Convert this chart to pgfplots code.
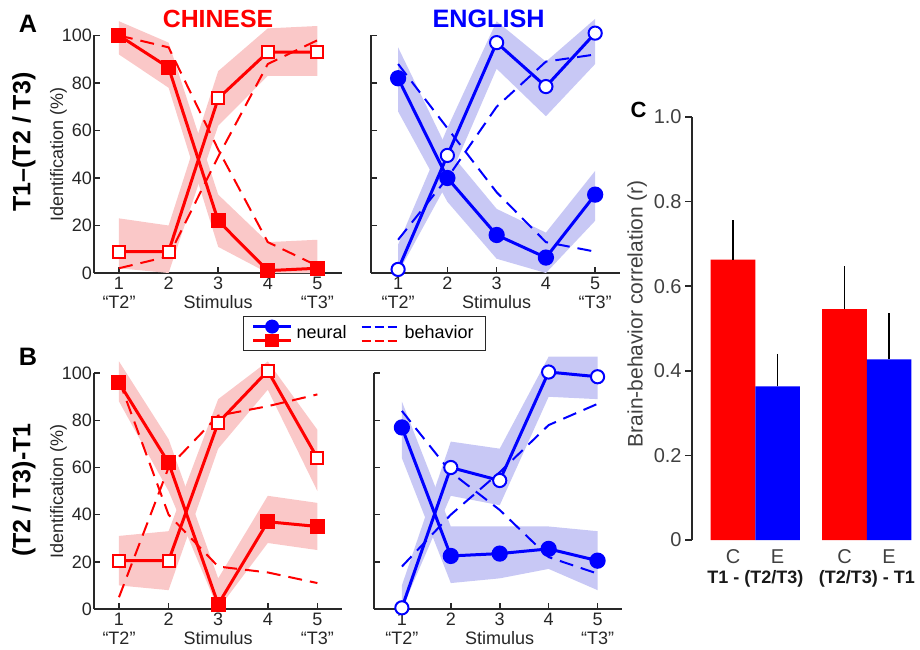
\documentclass[border=0pt]{standalone}
\usepackage{fontspec}
\setmainfont{Liberation Sans}
\usepackage{pgfplots}
\pgfplotsset{compat=1.18}
\definecolor{bandred}{RGB}{250,200,200}
\definecolor{bandblue}{RGB}{200,200,245}
\definecolor{axgray}{RGB}{40,40,40}
\pgfplotsset{
  lineax/.style={
    scale only axis, clip=false,
    xmin=0.5, xmax=5.5, ymin=0, ymax=100,
    axis x line*=bottom, axis y line*=left,
    axis line style={line width=0.9pt, axgray, -},
    tick align=inside, major tick length=3pt,
    major tick style={line width=0.8pt, axgray},
    xtick={1,2,3,4,5}, ytick={0,20,40,60,80,100},
    xticklabels={{1\\“T2”},{2},{3\\Stimulus},{4},{5\\“T3”}},
    xticklabel style={align=center, font=\fontsize{9}{9.5}\selectfont, inner sep=1pt, yshift=-1pt, text=black!85},
    yticklabel style={font=\fontsize{9}{10}\selectfont, inner sep=1pt, text=black!85},
    /pgf/number format/assume math mode=true,
    ylabel style={font=\fontsize{9}{10}\selectfont, text=black!85, at={(axis description cs:-0.144,0.5)}, anchor=center},
  },
  rband/.style={fill=bandred, draw=none, forget plot},
  bband/.style={fill=bandblue, draw=none, forget plot},
  rdash/.style={red, line width=1pt, dash pattern=on 7pt off 4pt, forget plot},
  bdash/.style={blue, line width=1pt, dash pattern=on 7pt off 4pt, forget plot},
  rfill/.style={red, line width=1.5pt, mark=square*, mark size=3pt, mark options={solid, fill=red}, forget plot},
  ropen/.style={red, line width=1.5pt, mark=square*, mark size=3pt, mark options={solid, fill=white, line width=1pt}, forget plot},
  bfill/.style={blue, line width=1.5pt, mark=*, mark size=3.3pt, mark options={solid, fill=blue}, forget plot},
  bopen/.style={blue, line width=1.5pt, mark=*, mark size=3.3pt, mark options={solid, fill=white, line width=1pt}, forget plot},
}
\begin{document}
\begin{tikzpicture}
\useasboundingbox (0,0) rectangle (460pt,324.5pt);

% ---------------- A Chinese ----------------
\begin{axis}[lineax, at={(47.1pt,188pt)}, anchor=south west, width=124pt, height=118.75pt,
  ylabel={Identification (\%)},
  legend style={at={(0.6,-0.181)}, anchor=north west, legend columns=2, draw=axgray, line width=0.6pt,
    font=\fontsize{9}{10}\selectfont, inner xsep=4pt, inner ysep=1.5pt,
    /tikz/every even column/.append style={column sep=5pt}},
  legend cell align=left]
\addplot[rband] coordinates {(1,106) (2,97) (3,33) (4,13) (5,14) (5,0) (4,0) (3,11) (2,78) (1,92)};
\addplot[rband] coordinates {(1,23) (2,20) (3,85) (4,103) (5,104) (5,83) (4,83) (3,62) (2,0) (1,2)};
\addplot[rdash] coordinates {(1,100) (2,95) (3,52) (4,13) (5,3)};
\addplot[rdash] coordinates {(1,2) (2,7) (3,49) (4,88) (5,98)};
\addplot[rfill] coordinates {(1,100) (2,86.5) (3,22) (4,1) (5,2)};
\addplot[ropen] coordinates {(1,9) (2,9) (3,73.5) (4,93) (5,93)};
\addlegendimage{legend image code/.code={
  \draw[blue, line width=1.5pt] (0pt,3.5pt) -- (19pt,3.5pt);
  \fill[blue] (9.5pt,3.5pt) circle (3.2pt);
  \draw[red, line width=1.5pt] (0pt,-3.5pt) -- (19pt,-3.5pt);
  \fill[red] (6.5pt,-6.5pt) rectangle (12.5pt,-0.5pt);
}}
\addlegendentry{neural}
\addlegendimage{legend image code/.code={
  \draw[blue, line width=1pt, dash pattern=on 4.5pt off 2pt] (0pt,3.5pt) -- (19pt,3.5pt);
  \draw[red, line width=1pt, dash pattern=on 4.5pt off 2pt] (0pt,-3.5pt) -- (19pt,-3.5pt);
}}
\addlegendentry{behavior}
\end{axis}

% ---------------- A English ----------------
\begin{axis}[lineax, at={(185.5pt,188pt)}, anchor=south west, width=124.4pt, height=118.75pt,
  xmin=0.45, yticklabels={}]
\addplot[bband] coordinates {(1,95) (2,52) (3,27) (4,17) (5,43) (5,22) (4,0) (3,6) (2,30) (1,68)};
\addplot[bband] coordinates {(1,12) (2,61) (3,106) (4,89) (5,107) (5,88) (4,66) (3,86) (2,38) (1,0)};
\addplot[bdash] coordinates {(1,88) (2,61) (3,34) (4,13) (5,9)};
\addplot[bdash] coordinates {(1,14) (2,40) (3,70) (4,89) (5,92)};
\addplot[bfill] coordinates {(1,82) (2,40) (3,16) (4,6.5) (5,33)};
\addplot[bopen] coordinates {(1,1.5) (2,49.5) (3,97) (4,78.5) (5,101)};
\end{axis}

% ---------------- B Chinese ----------------
\begin{axis}[lineax, at={(47.1pt,20pt)}, anchor=south west, width=124pt, height=117.9pt,
  ylabel={Identification (\%)}]
\addplot[rband] coordinates {(1,105) (2,72) (3,13) (4,48) (5,45) (5,25) (4,28) (3,0) (2,50) (1,88)};
\addplot[rband] coordinates {(1,31) (2,33) (3,89) (4,105) (5,76) (5,50) (4,93) (3,68) (2,8) (1,10)};
\addplot[rdash] coordinates {(1,5) (2,60) (3,82) (4,86) (5,91)};
\addplot[rdash] coordinates {(1,97) (2,40) (3,18) (4,15.5) (5,11)};
\addplot[rfill] coordinates {(1,96) (2,62) (3,2) (4,37) (5,35)};
\addplot[ropen] coordinates {(1,20.5) (2,20.5) (3,79) (4,101) (5,64)};
\end{axis}

% ---------------- B English ----------------
\begin{axis}[lineax, at={(187pt,20pt)}, anchor=south west, width=124pt, height=117.9pt,
  xmin=0.43, yticklabels={}]
\addplot[bband] coordinates {(1,88) (2,35) (3,35) (4,35) (5,33) (5,8) (4,17) (3,13) (2,11) (1,64)};
\addplot[bband] coordinates {(1,10) (2,71) (3,68) (4,107) (5,107) (5,89) (4,90) (3,44) (2,48) (1,0)};
\addplot[bdash] coordinates {(1,84) (2,58) (3,42) (4,22) (5,15)};
\addplot[bdash] coordinates {(1,18) (2,40) (3,58) (4,78) (5,87)};
\addplot[bfill] coordinates {(1,77) (2,22.5) (3,23.5) (4,25.5) (5,20.5)};
\addplot[bopen] coordinates {(1,0.5) (2,60) (3,54.5) (4,100.5) (5,98.5)};
\end{axis}

% ---------------- C bars ----------------
\begin{axis}[at={(346pt,54.5pt)}, anchor=south west, scale only axis, width=109.7pt, height=211.5pt,
  xmin=0.08, xmax=5.0, ymin=0, ymax=1, clip=false,
  axis x line*=bottom, axis y line*=left,
  x axis line style={draw=none}, y axis line style={line width=0.9pt, axgray, -},
  xtick={1,2,3.5,4.5}, xticklabels={C,E,C,E},
  xtick style={draw=none},
  extra x ticks={1.5,4}, extra x tick labels={{\bfseries T1 - (T2/T3)},{\bfseries (T2/T3) - T1}},
  extra x tick style={xtick style={draw=none}, xticklabel style={yshift=-10.5pt, font=\fontsize{9}{10}\selectfont, text=black!90}},
  xticklabel style={font=\fontsize{10}{10}\selectfont, text=black!75, inner sep=1pt},
  ytick={0,0.2,0.4,0.6,0.8,1.0}, yticklabels={0,0.2,0.4,0.6,0.8,1.0},
  ytick style={line width=0.8pt, axgray}, tick align=outside, major tick length=3.5pt,
  yticklabel style={font=\fontsize{10}{10}\selectfont, text=black!75, inner sep=1.5pt},
  ylabel={Brain-behavior correlation (r)},
  ylabel style={font=\fontsize{10.5}{11}\selectfont, text=black!75, at={(axis description cs:-0.25,0.535)}, anchor=center}]
\addplot[ybar, bar width=1, bar shift=0pt, fill=red, draw=none,
  error bars/.cd, y dir=plus, y explicit,
  error bar style={black, line width=0.7pt}, error mark options={black, line width=0.7pt, mark size=2.5pt}]
  coordinates {(1,0.663) +- (0,0.081) (3.5,0.546) +- (0,0.089)};
\addplot[ybar, bar width=1, bar shift=0pt, fill=blue, draw=none,
  error bars/.cd, y dir=plus, y explicit,
  error bar style={black, line width=0.7pt}, error mark options={black, line width=0.7pt, mark size=2.5pt}]
  coordinates {(2,0.363) +- (0,0.065) (4.5,0.427) +- (0,0.097)};
\end{axis}

% ---------------- texts ----------------
\node[font=\fontsize{12.6}{13}\selectfont\bfseries] at (14pt,312.5pt) {A};
\node[font=\fontsize{12.6}{13}\selectfont\bfseries] at (14pt,146pt) {B};
\node[font=\fontsize{11}{12}\selectfont\bfseries] at (319.3pt,269.5pt) {C};
\node[font=\fontsize{12.4}{13}\selectfont\bfseries, text=red] at (109pt,315pt) {CHINESE};
\node[font=\fontsize{12.6}{13}\selectfont\bfseries, text=blue] at (244.3pt,315pt) {ENGLISH};
\node[font=\fontsize{12.5}{13}\selectfont\bfseries, rotate=90] at (12pt,253.5pt) {T1–(T2 / T3)};
\node[font=\fontsize{12.5}{13}\selectfont\bfseries, rotate=90] at (12pt,79.5pt) {(T2 / T3)-T1};
\end{tikzpicture}
\end{document}
